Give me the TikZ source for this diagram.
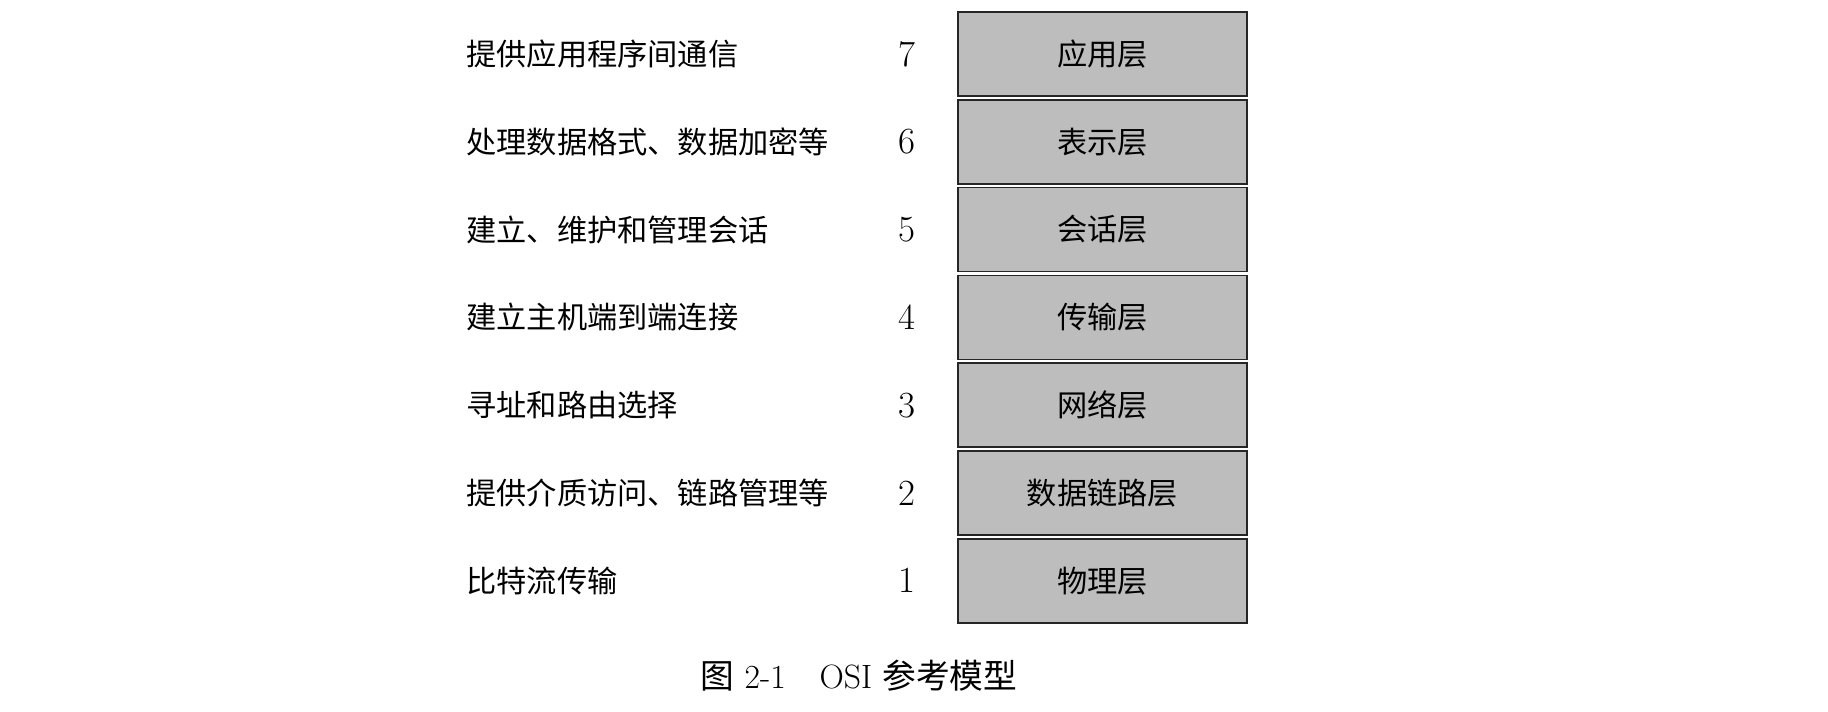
\documentclass[tikz,border=0pt]{standalone}
\usepackage{fontspec}
\newfontfamily\cjk{Noto Sans CJK SC}
\usetikzlibrary{positioning}

\tikzset{
  layerbox/.style={draw=black!85, line width=0.9pt, fill=gray!52, minimum width=5.78cm,
    minimum height=1.68cm, inner sep=0pt, font=\cjk\fontsize{17.2}{20}\selectfont},
  desctext/.style={anchor=west, inner sep=0pt, font=\cjk\fontsize{17.2}{20}\selectfont},
  numtext/.style={inner sep=0pt, font=\fontsize{21}{24}\selectfont}
}

\begin{document}
\begin{tikzpicture}[x=0.02cm,y=0.02cm]
        %\draw [help lines, step=50] (0,0) grid (1828,711);
        \useasboundingbox [fill=white] (0,0) rectangle (1828,711);

        \foreach \k/\lname/\ldesc in {7/应用层/提供应用程序间通信,
                                      6/表示层/处理数据格式、数据加密等,
                                      5/会话层/建立、维护和管理会话,
                                      4/传输层/建立主机端到端连接,
                                      3/网络层/寻址和路由选择,
                                      2/数据链路层/提供介质访问、链路管理等,
                                      1/物理层/比特流传输}
        {
          \node [layerbox] (layer\k) at (1102.5,{42.4+87.8*\k}) {\lname};
          \node [numtext] (num\k) at (907,{42.4+87.8*\k}) {\k};
          \node [desctext] (desc\k) at (466,{42.4+87.8*\k}) {\ldesc};
        }

        \node [inner sep=0pt, font=\fontsize{19.2}{22}\selectfont] (caption) at (859,35)
          {{\cjk 图} 2-1\quad OSI {\cjk 参考模型}};

    \end{tikzpicture}
\end{document}
